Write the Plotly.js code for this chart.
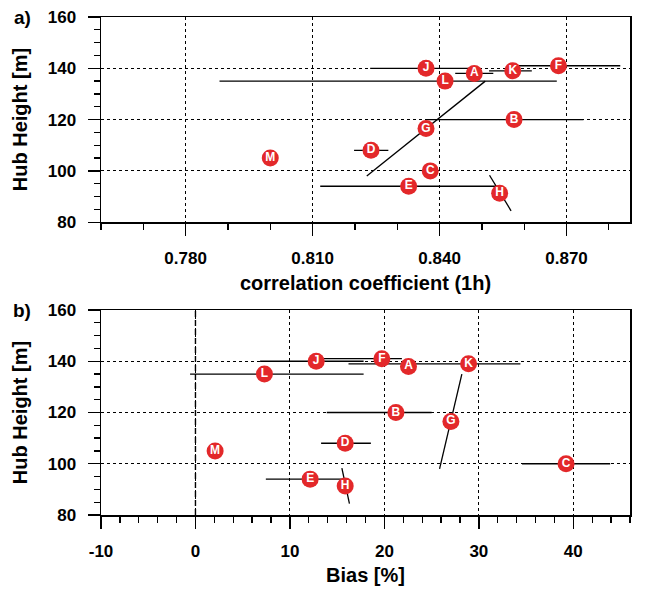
<!DOCTYPE html>
<html>
<head>
<meta charset="utf-8">
<script src="https://cdn.plot.ly/plotly-3.0.1.min.js"></script>
<style>html,body{margin:0;padding:0;background:#fff;}#chart{width:647px;height:590px;}</style>
</head>
<body>
<div id="chart"></div>
<script>
// ---- data ----
const stations   = ['A','B','C','D','E','F','G','H','J','K','L','M'];
const hubHeight  = [138, 120, 100, 108, 94, 141, 116.5, 91.3, 140, 139, 135, 105];
const corr1h     = [0.8482, 0.8576, 0.8378, 0.8238, 0.8327, 0.8681, 0.8368, 0.8542, 0.8368, 0.8573, 0.8413, 0.8000];
const biasPct    = [22.55, 21.22, 39.23, 15.85, 12.14, 19.73, 27.04, 15.85, 12.78, 28.91, 7.3, 2.08];

// range segments (x0,x1 at heights y0,y1); null = no segment
const corrSegX0  = [0.8437, 0.8366, null, 0.8198, 0.8118, 0.8585, 0.8228, 0.8518, 0.8236, 0.8517, 0.7880, null];
const corrSegX1  = [0.8527, 0.8740, null, 0.8279, 0.8535, 0.8827, 0.8508, 0.8569, 0.8490, 0.8618, 0.8677, null];
const biasSegX0  = [null, 13.9, 34.57, 13.3, 7.45, 13.55, 25.84, 15.5, 6.84, 16.2, -0.57, null];
const biasSegX1  = [null, 25.0, 43.9, 18.57, 15.5, 21.85, 28.2, 16.3, 17.8, 34.4, 17.8, null];
const segY0      = [138, 120, 100, 108, 94, 141, 98, 98.3, 140, 139, 135, 105];
const segY1      = [138, 120, 100, 108, 94, 141, 135, 84.4, 140, 139, 135, 105];

const corrTicks  = [0.78, 0.81, 0.84, 0.87];
const corrLabels = ['0.780', '0.810', '0.840', '0.870'];
const biasTicks  = [-10, 0, 10, 20, 30, 40];
const biasLabels = ['-10', '0', '10', '20', '30', '40'];
const heightTicks= [80, 100, 120, 140, 160];
const zeroBias   = 0;

// ---- build ----
function segTrace(x0, x1, xa, ya) {
  const xs = [], ys = [];
  for (let i = 0; i < stations.length; i++) {
    if (x0[i] === null) continue;
    xs.push(x0[i], x1[i], null);
    ys.push(segY0[i], segY1[i], null);
  }
  return {x: xs, y: ys, xaxis: xa, yaxis: ya, mode: 'lines', type: 'scatter',
          line: {color: '#000', width: 1.3}, hoverinfo: 'skip', showlegend: false};
}
function markerTrace(xv, xa, ya) {
  return {x: xv, y: hubHeight, xaxis: xa, yaxis: ya, mode: 'markers+text', type: 'scatter',
          text: stations, textposition: 'middle center',
          textfont: {color: '#fff', size: 12, family: 'Liberation Sans, Arial, sans-serif', weight: 'bold'},
          marker: {size: 17, color: '#e3282a', line: {width: 0}}, showlegend: false};
}
const data = [
  segTrace(corrSegX0, corrSegX1, 'x', 'y'),
  markerTrace(corr1h, 'x', 'y'),
  segTrace(biasSegX0, biasSegX1, 'x2', 'y2'),
  markerTrace(biasPct, 'x2', 'y2')
];

const FONT = 'Liberation Sans, Arial, Helvetica, sans-serif';
function axisBase() {
  return {
    showline: true, linecolor: '#000', linewidth: 1.5, mirror: true,
    ticks: 'outside', ticklen: 12, tickwidth: 1.3, tickcolor: '#000',
    showgrid: true, gridcolor: '#000', gridwidth: 1, griddash: '3px,3px',
    zeroline: false, fixedrange: true,
    tickfont: {family: FONT, size: 17, color: '#000', weight: 'bold'},
    ticklabelstandoff: 8
  };
}
const layout = {
  width: 647, height: 590,
  margin: {l: 101, r: 17, t: 17, b: 75},
  paper_bgcolor: '#fff', plot_bgcolor: '#fff',
  font: {family: FONT, color: '#000'},
  showlegend: false,
  xaxis: Object.assign(axisBase(), {
    anchor: 'y', domain: [0, 1], range: [0.76, 0.885],
    tickvals: corrTicks, ticktext: corrLabels,
    minor: {dtick: 0.01, tick0: 0.76, ticklen: 6, tickwidth: 1.3, tickcolor: '#000', ticks: 'outside', showgrid: false},
    title: {text: 'correlation coefficient (1h)', font: {family: FONT, size: 20, weight: 'bold'}, standoff: 9}
  }),
  yaxis: Object.assign(axisBase(), {
    anchor: 'x', domain: [0.588, 1], range: [80, 160],
    tickvals: heightTicks,
    minor: {dtick: 5, tick0: 80, ticklen: 6, tickwidth: 1.3, tickcolor: '#000', ticks: 'outside', showgrid: false},
    title: {text: 'Hub Height [m]', font: {family: FONT, size: 20, weight: 'bold'}, standoff: 14}
  }),
  xaxis2: Object.assign(axisBase(), {
    anchor: 'y2', domain: [0, 1], range: [-10, 46],
    tickvals: biasTicks, ticktext: biasLabels,
    minor: {dtick: 2, tick0: -10, ticklen: 6, tickwidth: 1.3, tickcolor: '#000', ticks: 'outside', showgrid: false},
    title: {text: 'Bias [%]', font: {family: FONT, size: 20, weight: 'bold'}, standoff: 8}
  }),
  yaxis2: Object.assign(axisBase(), {
    anchor: 'x2', domain: [0, 0.4116], range: [80, 160],
    tickvals: heightTicks,
    minor: {dtick: 5, tick0: 80, ticklen: 6, tickwidth: 1.3, tickcolor: '#000', ticks: 'outside', showgrid: false},
    title: {text: 'Hub Height [m]', font: {family: FONT, size: 20, weight: 'bold'}, standoff: 14}
  }),
  shapes: [
    {type: 'line', xref: 'x2', yref: 'y2 domain', x0: zeroBias, x1: zeroBias, y0: 0, y1: 1,
     line: {color: '#000', width: 1.4, dash: '6px,3px'}, layer: 'below'}
  ],
  annotations: [
    {text: 'a)', xref: 'paper', yref: 'paper', x: -0.128, y: 1.0, xanchor: 'right', yanchor: 'middle',
     showarrow: false, font: {family: FONT, size: 19, weight: 'bold', color: '#000'}},
    {text: 'b)', xref: 'paper', yref: 'paper', x: -0.128, y: 0.4116, xanchor: 'right', yanchor: 'middle',
     showarrow: false, font: {family: FONT, size: 19, weight: 'bold', color: '#000'}}
  ]
};
Plotly.newPlot('chart', data, layout, {displayModeBar: false, staticPlot: true});
</script>
</body>
</html>
